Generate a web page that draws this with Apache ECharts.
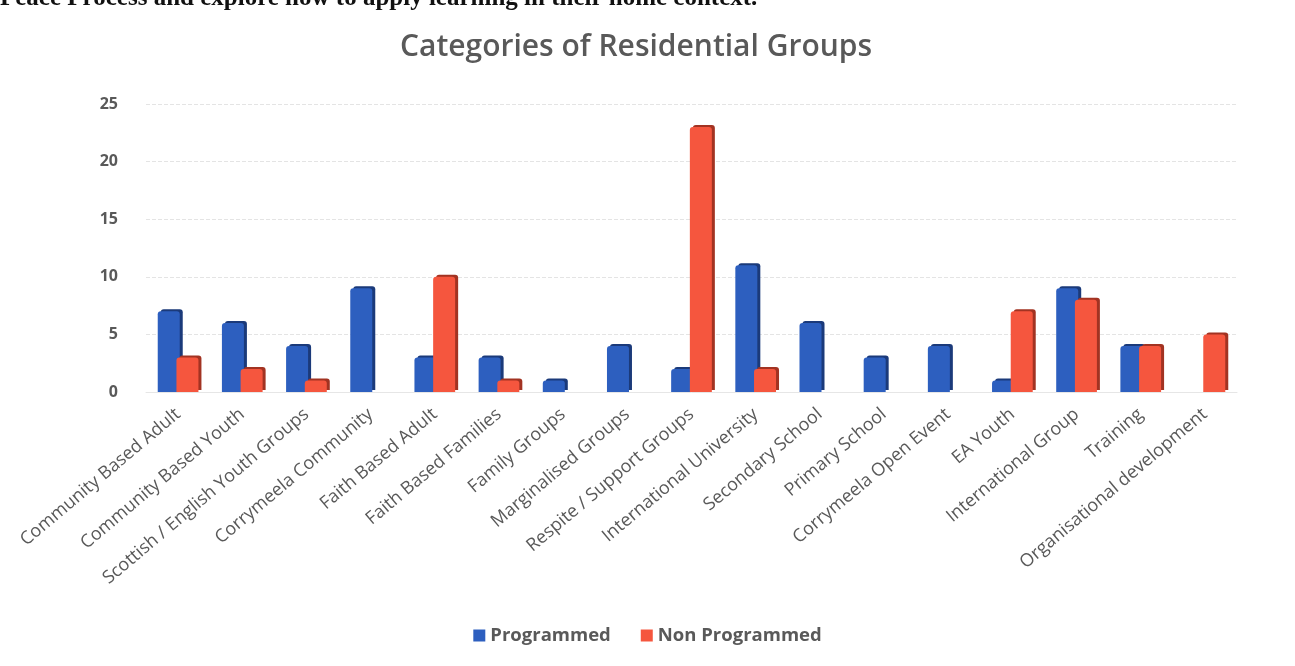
<!DOCTYPE html>
<html><head><meta charset="utf-8">
<script src="https://cdn.jsdelivr.net/npm/echarts@6/dist/echarts.min.js"></script>
<style>html,body{margin:0;padding:0;background:#fff}#c{width:1295px;height:666px}</style>
</head><body><div id="c"></div>
<script>
const categories = ["Community Based Adult","Community Based Youth","Scottish / English Youth Groups","Corrymeela Community","Faith Based Adult","Faith Based Families","Family Groups","Marginalised Groups","Respite / Support Groups","International University","Secondary School","Primary School","Corrymeela Open Event","EA Youth","International Group","Training","Organisational development"];
const programmed = [7,6,4,9,3,3,1,4,2,11,6,3,4,1,9,4,0];
const nonProgrammed = [3,2,1,0,10,1,0,0,23,2,0,0,0,7,8,4,5];
const seriesNames = ["Programmed","Non Programmed"];
const yTicks = [0,5,10,15,20,25];

const chart = echarts.init(document.getElementById('c'));
const font = "'Open Sans', sans-serif";
chart.setOption({
  animation:false,
  title:{text:"Categories of Residential Groups",left:395,top:27,
    textStyle:{fontFamily:font,fontSize:30,fontWeight:600,color:'#595959'}},
  graphic:[{type:'text',left:0,top:-14,style:{text:"Peace Process and explore how to apply learning in their home context.",
    font:"bold 25px 'Liberation Serif', serif",fill:'#111'}}],
  legend:{bottom:16,left:'center',itemWidth:12,itemHeight:12,itemGap:30,icon:'rect',
    textStyle:{fontFamily:font,fontSize:18.5,fontWeight:'bold',color:'#595959'},data:seriesNames},
  grid:{left:146,right:58,top:104,bottom:274},
  xAxis:{type:'category',data:categories,
    axisLine:{show:true,lineStyle:{color:'#e6e6e6'}},axisTick:{show:false},
    axisLabel:{interval:0,rotate:40,fontFamily:font,fontSize:18,color:'#595959',margin:20}},
  yAxis:{type:'value',min:0,max:25,interval:5,
    axisLine:{show:false},axisTick:{show:false},
    splitLine:{lineStyle:{color:'#e4e4e4',type:'dashed'}},
    axisLabel:{fontFamily:font,fontSize:16,fontWeight:'bold',color:'#595959',margin:28,
      formatter:v=>yTicks.includes(v)?String(v):''}},
  series:[
    {name:seriesNames[0],type:'bar',data:programmed,barWidth:22,barGap:'-15%',
      itemStyle:{color:'#2d5fbf',borderRadius:[3,3,0,0],shadowColor:'#1b3a7a',shadowOffsetX:3,shadowOffsetY:-2}},
    {name:seriesNames[1],type:'bar',data:nonProgrammed,barWidth:22,
      itemStyle:{color:'#f5563e',borderRadius:[3,3,0,0],shadowColor:'#a23322',shadowOffsetX:3,shadowOffsetY:-2}}
  ]
});
</script></body></html>
